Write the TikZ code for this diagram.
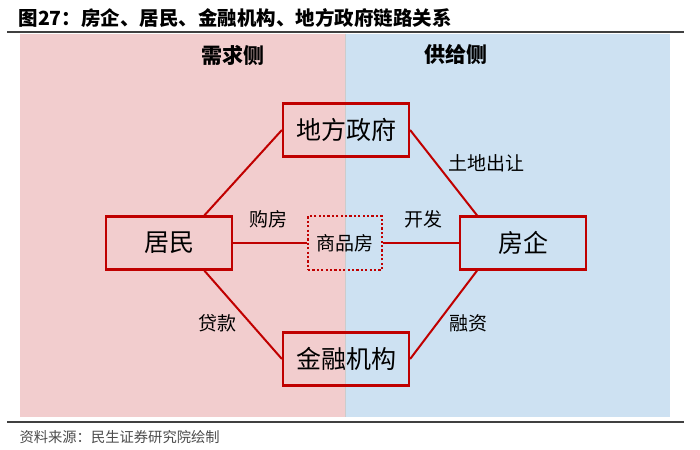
\documentclass[tikz,border=0pt]{standalone}
\usepackage{fontspec}
\setmainfont{Noto Sans CJK SC}
\definecolor{xqfen}{RGB}{242,205,206}
\definecolor{gjlan}{RGB}{205,225,242}
\definecolor{shenhong}{RGB}{192,0,0}
\tikzset{
  zhuti/.style={draw=shenhong,line width=2.2pt,minimum width=126pt,minimum height=53pt,inner sep=0pt,font=\fontsize{25}{28}\selectfont},
  shangpin/.style={draw=shenhong,line width=2.3pt,dash pattern=on 2.2pt off 2.2pt,minimum width=74pt,minimum height=54pt,inner sep=0pt,font=\fontsize{19}{22}\selectfont},
  lianxian/.style={draw=shenhong,line width=2pt},
  biaoqian/.style={font=\fontsize{19}{22}\selectfont},
  cebie/.style={font=\fontsize{21}{24}\selectfont\bfseries}
}
\begin{document}
\begin{tikzpicture}[x=1pt,y=-1pt]
  \useasboundingbox (0,0) rectangle (700,449);
  % 背景：需求侧与供给侧
  \fill[xqfen] (20,34) rectangle (345,417);
  \fill[gjlan] (345,34) rectangle (670,417);
  \draw[black!20,line width=0.8pt] (345,34) -- (345,417);
  % 标题、分隔线与来源
  \node[anchor=west,font=\fontsize{19.5}{22}\selectfont\bfseries] (biaoti) at (15,18) {图27：房企、居民、金融机构、地方政府链路关系};
  \draw[black!75,line width=2pt] (7,32) -- (684,32);
  \draw[black!75,line width=2pt] (7,422) -- (684,422);
  \node[anchor=west,font=\fontsize{14.3}{16}\selectfont,text=black!70] (laiyuan) at (16,437) {资料来源：民生证券研究院绘制};
  \node[cebie] (xuqiu) at (233,55) {需求侧};
  \node[cebie] (gongji) at (456,55) {供给侧};
  % 四个主体
  \node[zhuti] (jumin) at (169,243) {居民};
  \node[zhuti] (fangqi) at (523,243) {房企};
  \node[zhuti] (zhengfu) at (346,130) {地方政府};
  \node[zhuti] (jinrong) at (346,359) {金融机构};
  \node[shangpin] (spf) at (345,243) {商品房};
  % 连线
  \draw[lianxian] (jumin.east) -- (spf.west);
  \draw[lianxian] (spf.east) -- (fangqi.west);
  \draw[lianxian] (jumin.38) -- (zhengfu.west);
  \draw[lianxian] (zhengfu.east) -- (fangqi.149);
  \draw[lianxian] (jumin.-38) -- (jinrong.west);
  \draw[lianxian] (jinrong.east) -- (fangqi.-149);
  % 连线标注
  \node[biaoqian] (goufang) at (268,219) {购房};
  \node[biaoqian] (kaifa) at (423,219) {开发};
  \node[biaoqian] (tudi) at (486,163) {土地出让};
  \node[biaoqian] (daikuan) at (217,323) {贷款};
  \node[biaoqian] (rongzi) at (468,323) {融资};
\end{tikzpicture}
\end{document}
